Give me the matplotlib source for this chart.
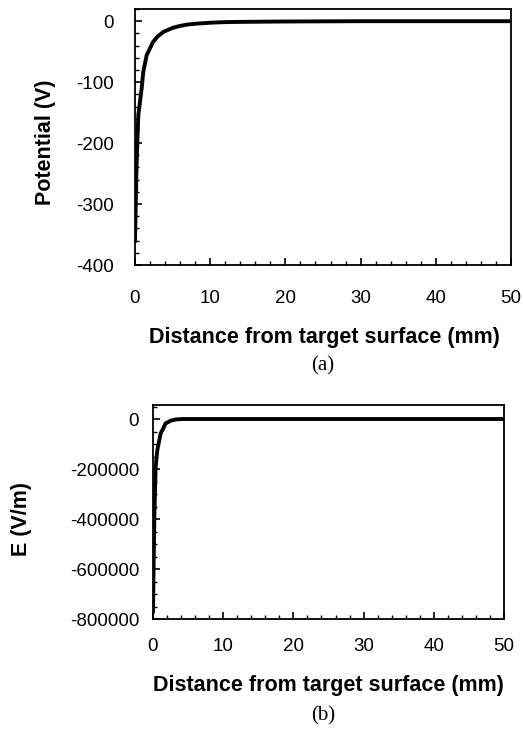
import matplotlib
matplotlib.use('Agg')
import matplotlib.pyplot as plt
from matplotlib.ticker import MultipleLocator

# Potential vs distance, panel (a)
dist_a = [0.0, 0.1, 0.2, 0.44, 0.89, 1.1, 1.55, 2.4, 3.0, 3.8, 5.0, 6.0, 7.0, 8.2, 10.0, 12.0, 15.0, 20.0, 30.0, 40.0, 50.0]
potential = [-360, -300, -240, -154, -110, -83, -56, -34, -25, -17.5, -11, -7.7, -5.5, -4, -2.5, -1.5, -1, -0.5, 0, 0, 0]

# Electric field vs distance, panel (b)
dist_b = [0.0, 0.1, 0.2, 0.38, 0.62, 0.86, 1.1, 1.33, 1.8, 2.05, 2.5, 3.2, 4.2, 6.0, 10.0, 20.0, 30.0, 40.0, 50.0]
efield = [-770000, -560000, -380000, -191000, -124000, -90000, -57000, -45000, -17000, -14000, -7000, -2000, 0, 0, 0, 0, 0, 0, 0]

plt.rcParams['font.family'] = ['Liberation Sans', 'DejaVu Sans']
plt.rcParams['axes.unicode_minus'] = False

W, H = 523, 740
fig = plt.figure(figsize=(W / 100, H / 100), dpi=100)


def px_axes(left, top, right, bottom):
    return fig.add_axes([left / W, 1 - bottom / H, (right - left) / W, (bottom - top) / H])


def style(ax, xpad, ypad):
    for s in ax.spines.values():
        s.set_linewidth(1.3)
    ax.tick_params(which='both', direction='in', top=False, right=False, labelsize=13.5)
    ax.tick_params(which='major', length=5, width=1.2)
    ax.tick_params(which='minor', length=3, width=1.0)
    ax.tick_params(axis='x', which='major', pad=xpad)
    ax.tick_params(axis='y', which='major', pad=ypad)
    ax.xaxis.set_major_locator(MultipleLocator(10))
    ax.xaxis.set_minor_locator(MultipleLocator(2))
    ax.set_xlim(0, 50)


def place_labels(ax, xl, yl, xlab_xy, ylab_xy):
    ax.set_xlabel(xl, fontsize=15.5, fontweight='bold')
    ax.set_ylabel(yl, fontsize=15.5, fontweight='bold')
    ax.xaxis.set_label_coords(xlab_xy[0] / W, 1 - xlab_xy[1] / H, transform=fig.transFigure)
    ax.yaxis.set_label_coords(ylab_xy[0] / W, 1 - ylab_xy[1] / H, transform=fig.transFigure)
    ax.xaxis.label.set_verticalalignment('center')
    ax.yaxis.label.set_verticalalignment('center')


ax1 = px_axes(135, 9, 511, 265)
ax1.plot(dist_a, potential, color='black', linewidth=2.8)
style(ax1, xpad=18, ypad=15)
ax1.set_ylim(-400, 20)
ax1.yaxis.set_major_locator(MultipleLocator(100))
ax1.yaxis.set_minor_locator(MultipleLocator(20))
place_labels(ax1, 'Distance from target surface (mm)', 'Potential (V)', (324, 337), (45, 142))
fig.text(323 / W, 1 - 366 / H, '(a)', family='Liberation Serif', fontsize=15, ha='center', va='center')

ax2 = px_axes(153, 405, 504, 619)
ax2.plot(dist_b, efield, color='black', linewidth=2.8)
style(ax2, xpad=13.5, ypad=10)
ax2.set_ylim(-800000, 56000)
ax2.yaxis.set_major_locator(MultipleLocator(200000))
ax2.yaxis.set_minor_locator(MultipleLocator(50000))
place_labels(ax2, 'Distance from target surface (mm)', 'E (V/m)', (328, 686), (21, 519))
fig.text(323 / W, 1 - 716 / H, '(b)', family='Liberation Serif', fontsize=15, ha='center', va='center')

fig.savefig('out.png', dpi=100)
